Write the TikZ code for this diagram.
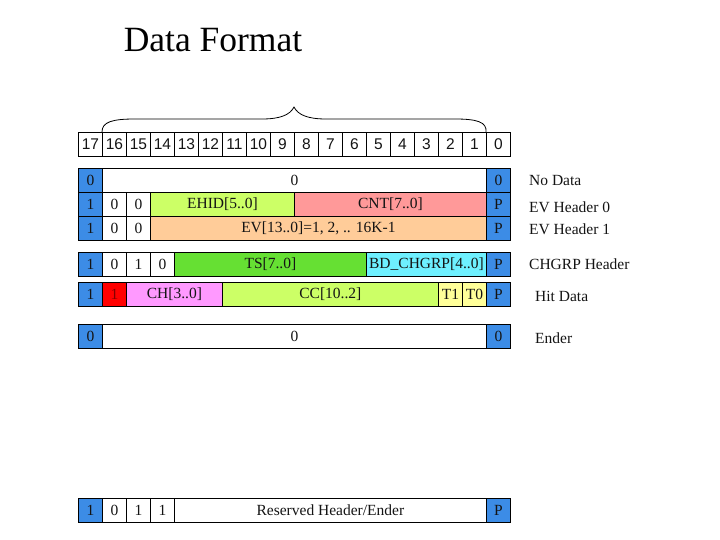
\documentclass[tikz,border=0pt]{standalone}
\usepackage{fontspec}
\setmainfont{Liberation Serif}
\newfontfamily\hdrfont{Liberation Sans}
\newfontfamily\titlefont{Liberation Serif}
\definecolor{blueC}{RGB}{60,140,230}
\definecolor{ehidC}{RGB}{204,255,102}
\definecolor{cntC}{RGB}{255,153,153}
\definecolor{evC}{RGB}{255,204,153}
\definecolor{tsC}{RGB}{102,224,51}
\definecolor{bdC}{RGB}{110,240,255}
\definecolor{redC}{RGB}{255,0,0}
\definecolor{chC}{RGB}{255,153,255}
\definecolor{ccC}{RGB}{204,255,102}
\definecolor{tC}{RGB}{255,255,153}
\definecolor{textC}{RGB}{20,20,20}
\tikzset{
  cell/.style={draw=black, line width=0.8pt, rectangle, anchor=north west,
    inner sep=0pt, minimum height=24pt, text=textC,
    font=\fontsize{15.5}{18}\selectfont},
  rowlabel/.style={anchor=west, inner sep=0pt, text=textC,
    font=\fontsize{15.5}{18}\selectfont},
  bracestyle/.style={draw=black, line width=0.8pt},
}
\newcommand\mycell[6]{\node[cell, fill=#5, minimum width={(#3-#2)*1pt}] (#1) at (#2,#4) {#6};}
\begin{document}
\begin{tikzpicture}[x=1pt,y=-1pt]
\useasboundingbox (0,0) rectangle (720,540);
\fill[white] (0,0) rectangle (720,540);

% title
\node[anchor=base, inner sep=0pt, font=\titlefont\fontsize{35.5}{42}\selectfont] (title) at (213,51.7) {Data Format};

% header bits
\foreach \i in {0,...,17}{
  \pgfmathtruncatemacro\lab{17-\i}
  \node[cell, fill=white, minimum width=24pt, font=\hdrfont\fontsize{15.5}{18}\selectfont] (h\i) at ({78+24*\i},132) {\lab};
}

% brace
\draw[bracestyle] (h1.north west) .. controls (102,122) and (112,119) .. (135,119)
  -- (262,119) .. controls (280,119) and (290,115) .. (294,107)
  .. controls (298,115) and (308,119) .. (326,119)
  -- (455,119) .. controls (477,119) and (487,122) .. (h17.north west);

% row 1: No Data
\mycell{r1a}{78}{102}{168}{blueC}{0}
\mycell{r1b}{102}{486}{168}{white}{0}
\mycell{r1c}{486}{510}{168}{blueC}{0}

% row 2: EV Header 0
\mycell{r2a}{78}{102}{192}{blueC}{1}
\mycell{r2b}{102}{126}{192}{white}{0}
\mycell{r2c}{126}{150}{192}{white}{0}
\mycell{r2d}{150}{294}{192}{ehidC}{EHID[5..0]}
\mycell{r2e}{294}{486}{192}{cntC}{CNT[7..0]}
\mycell{r2f}{486}{510}{192}{blueC}{P}

% row 3: EV Header 1
\mycell{r3a}{78}{102}{216}{blueC}{1}
\mycell{r3b}{102}{126}{216}{white}{0}
\mycell{r3c}{126}{150}{216}{white}{0}
\mycell{r3d}{150}{486}{216}{evC}{EV[13..0]=1, 2, .. 16K-1}
\mycell{r3e}{486}{510}{216}{blueC}{P}

% row 4: CHGRP Header
\mycell{r4a}{78}{102}{252}{blueC}{1}
\mycell{r4b}{102}{126}{252}{white}{0}
\mycell{r4c}{126}{150}{252}{white}{1}
\mycell{r4d}{150}{174}{252}{white}{0}
\mycell{r4e}{174}{366}{252}{tsC}{TS[7..0]}
\mycell{r4f}{366}{486}{252}{bdC}{BD\_CHGRP[4..0]}
\mycell{r4g}{486}{510}{252}{blueC}{P}

% row 5: Hit Data
\mycell{r5a}{78}{102}{282}{blueC}{1}
\node[cell, fill=redC, minimum width=24pt, text={rgb,255:red,130;green,0;blue,0}] (r5b) at (102,282) {1};
\mycell{r5c}{126}{222}{282}{chC}{CH[3..0]}
\mycell{r5d}{222}{438}{282}{ccC}{CC[10..2]}
\mycell{r5e}{438}{462}{282}{tC}{T1}
\mycell{r5f}{462}{486}{282}{tC}{T0}
\mycell{r5g}{486}{510}{282}{blueC}{P}

% row 6: Ender
\mycell{r6a}{78}{102}{324}{blueC}{0}
\mycell{r6b}{102}{486}{324}{white}{0}
\mycell{r6c}{486}{510}{324}{blueC}{0}

% row 7: Reserved
\mycell{r7a}{78}{102}{498}{blueC}{1}
\mycell{r7b}{102}{126}{498}{white}{0}
\mycell{r7c}{126}{150}{498}{white}{1}
\mycell{r7d}{150}{174}{498}{white}{1}
\mycell{r7e}{174}{486}{498}{white}{Reserved Header/Ender}
\mycell{r7f}{486}{510}{498}{blueC}{P}

% labels
\node[rowlabel] (l1) at (529,181) {No Data};
\node[rowlabel] (l2) at (529,207) {EV Header 0};
\node[rowlabel] (l3) at (529,229) {EV Header 1};
\node[rowlabel] (l4) at (529,264) {CHGRP Header};
\node[rowlabel] (l5) at (535,296) {Hit Data};
\node[rowlabel] (l6) at (535,338) {Ender};
\end{tikzpicture}
\end{document}
